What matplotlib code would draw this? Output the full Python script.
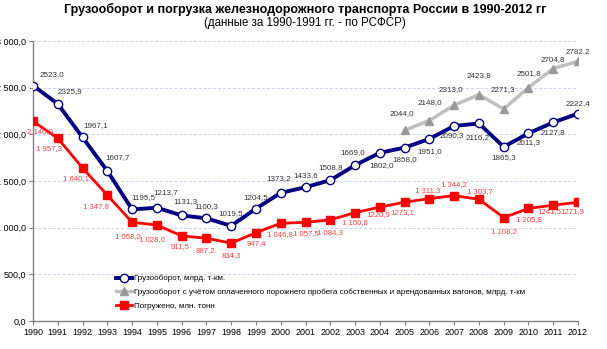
import matplotlib.pyplot as plt
from matplotlib.ticker import FuncFormatter

plt.rcParams['font.family'] = ['Liberation Sans', 'DejaVu Sans']

years = list(range(1990, 2013))
turnover = [2523.0, 2325.9, 1967.1, 1607.7, 1195.5, 1213.7, 1131.3, 1100.3, 1019.5,
            1204.5, 1373.2, 1433.6, 1508.8, 1669.0, 1802.0, 1858.0, 1951.0, 2090.3,
            2116.2, 1865.3, 2011.3, 2127.8, 2222.4]
years_empty = list(range(2005, 2013))
turnover_empty = [2044.0, 2148.0, 2313.0, 2423.8, 2271.3, 2501.8, 2704.8, 2782.2]
loading = [2140.0, 1957.3, 1640.1, 1347.8, 1058.2, 1028.0, 911.5, 887.2, 834.3,
           947.4, 1046.8, 1057.5, 1084.3, 1160.8, 1220.9, 1273.1, 1311.3, 1344.2,
           1303.7, 1108.2, 1205.8, 1241.5, 1271.9]
# some loading labels are written without the thousands space
loading_nospace = [1220.9, 1273.1, 1241.5, 1271.9]

# label offsets in pixels (dx, dy)
off_turnover = [(19, 11), (12, 12), (13, 12), (10, 13), (11, 12), (9, 15), (4, 14),
                (0, 12), (0, 12), (0, 11), (-2, 14), (0, 12), (0, 13), (-2, 13),
                (2, -13), (0, -12), (0, -13), (-2, -10), (-1, -14), (0, -11),
                (0, -9), (0, -10), (0, 10)]
off_empty = [(-3, 17), (0, 18), (-3, 16), (0, 19), (-1, 19), (0, 14), (0, 9), (0, 10)]
off_loading = [(7, -10), (-9, -10), (-7, -11), (-11, -11), (-4, -14), (-5, -14),
               (-2, -11), (-1, -12), (0, -12), (0, -11), (-1, -11), (0, -11),
               (0, -13), (0, -10), (-2, -7), (-2, -10), (-2, 8), (0, 11), (1, 8),
               (0, -14), (0, -11), (-4, -6), (-6, -9)]


def fmt_space(v):
    return f"{v:,.1f}".replace(",", " ").replace(".", ",")


def fmt_plain(v):
    return f"{v:.1f}".replace(".", ",")


fig = plt.figure(figsize=(6.07, 3.49), dpi=100)
ax = fig.add_axes([0.0544, 0.0802, 0.8979, 0.8023])

ax.plot(years, turnover, color='#000080', lw=2.8, marker='o', ms=6,
        mfc='white', mec='#000080', mew=1.0, zorder=4,
        label='Грузооборот, млрд. т-км.')
ax.plot(years_empty, turnover_empty, color='#BFBFBF', lw=2.5, marker='^', ms=6,
        mfc='#999999', mec='#999999', zorder=3,
        label='Грузооборот с учётом оплаченного порожнего пробега собственных и арендованных вагонов, млрд. т-км')
ax.plot(years, loading, color='#FF0000', lw=2.0, marker='s', ms=5.5,
        mfc='#FF0000', mec='#FF0000', zorder=3,
        label='Погружено, млн. тонн')

for x, y, o in zip(years, turnover, off_turnover):
    ax.annotate(fmt_plain(y), (x, y), xytext=o, textcoords='offset pixels',
                ha='center', va='center', fontsize=5.8, color='#333333', zorder=6)
for x, y, o in zip(years_empty, turnover_empty, off_empty):
    ax.annotate(fmt_plain(y), (x, y), xytext=o, textcoords='offset pixels',
                ha='center', va='center', fontsize=5.8, color='#333333', zorder=6)
for x, y, o in zip(years, loading, off_loading):
    txt = fmt_plain(y) if y in loading_nospace else fmt_space(y)
    ax.annotate(txt, (x, y), xytext=o, textcoords='offset pixels',
                ha='center', va='center', fontsize=5.6, color='#FF4040', zorder=6)

ax.set_xlim(1990, 2012)
ax.set_ylim(0, 3000)
ax.set_xticks(years)
ax.set_yticks(range(0, 3001, 500))
ax.yaxis.set_major_formatter(FuncFormatter(lambda v, p: fmt_space(v)))
ax.tick_params(axis='both', labelsize=6.5, colors='#808080', length=3, width=0.8,
               labelcolor='black')
ax.tick_params(axis='x', pad=2)
ax.tick_params(axis='y', pad=2)
ax.grid(axis='y', color='#C6D4EE', linestyle=(0, (3, 2)), lw=0.7)
ax.set_axisbelow(True)
for s in ('top', 'right'):
    ax.spines[s].set_visible(False)
for s in ('left', 'bottom'):
    ax.spines[s].set_color('#808080')
    ax.spines[s].set_linewidth(1.0)

ax.legend(loc='lower left', bbox_to_anchor=(0.142, 0.02), frameon=False,
          fontsize=5.8, handlelength=2.0, handletextpad=0.2, labelspacing=0.75,
          borderaxespad=0.3)

fig.text(0.503, 0.972, 'Грузооборот и погрузка железнодорожного транспорта России в 1990-2012 гг',
         ha='center', va='center', fontsize=9, fontweight='bold')
fig.text(0.503, 0.933, '(данные за 1990-1991 гг. - по РСФСР)',
         ha='center', va='center', fontsize=8.3)

fig.savefig('out.png', dpi=100)
